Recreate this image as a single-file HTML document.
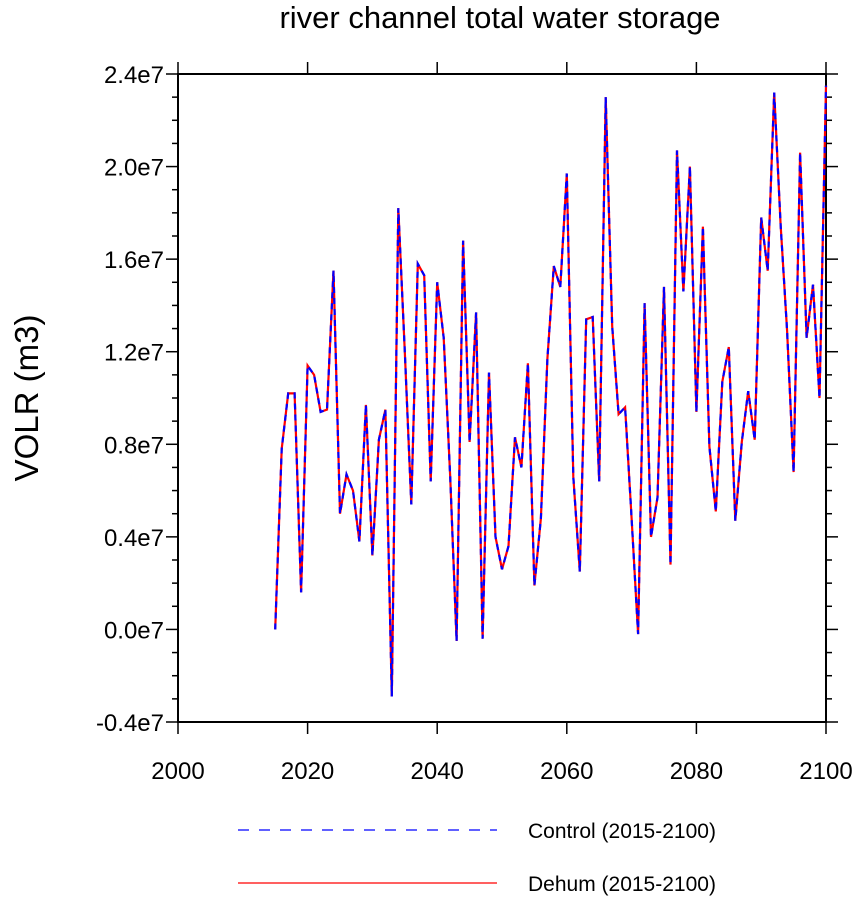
<!DOCTYPE html>
<html><head><meta charset="utf-8"><style>
body{margin:0;background:#fff;}
svg{display:block;font-family:"Liberation Sans",Helvetica,Arial,sans-serif;}
</style></head><body>
<svg id="chart" width="858" height="897" viewBox="0 0 858 897">
<text x="500" y="28" text-anchor="middle" font-size="31">river channel total water storage</text>
<text transform="translate(38,398) rotate(-90)" text-anchor="middle" font-size="33">VOLR  (m3)</text>
<g id="axes"></g>
<g id="series"></g>
<g id="legend">
<line x1="238" y1="830" x2="497" y2="830" stroke="#0000ff" stroke-width="1.3" stroke-dasharray="11,10"/>
<text x="528" y="838" font-size="21">Control (2015-2100)</text>
<line x1="238" y1="883" x2="497" y2="883" stroke="#ff0000" stroke-width="1.3"/>
<text x="528" y="891" font-size="21">Dehum (2015-2100)</text>
</g>
</svg>
<script>
const years=[];for(let y=2015;y<=2100;y++)years.push(y);
const controlValues=[0.0,0.78,1.02,1.02,0.16,1.14,1.10,0.94,0.95,1.55,0.50,0.67,0.60,0.38,0.97,0.32,0.82,0.95,-0.29,1.82,1.20,0.54,1.58,1.53,0.64,1.50,1.26,0.66,-0.05,1.68,0.81,1.37,-0.04,1.11,0.40,0.26,0.36,0.83,0.70,1.15,0.19,0.48,1.17,1.57,1.48,1.97,0.66,0.25,1.34,1.35,0.64,2.30,1.31,0.93,0.96,0.48,-0.02,1.41,0.40,0.57,1.48,0.28,2.07,1.46,2.00,0.94,1.74,0.79,0.51,1.07,1.22,0.47,0.81,1.03,0.82,1.78,1.55,2.32,1.75,1.29,0.68,2.06,1.26,1.49,1.00,2.35];
const dehumValues=controlValues.slice();
const yTicks=[-0.4,0.0,0.4,0.8,1.2,1.6,2.0,2.4];
const yTickLabels=["-0.4e7","0.0e7","0.4e7","0.8e7","1.2e7","1.6e7","2.0e7","2.4e7"];
const xTicks=[2000,2020,2040,2060,2080,2100];
const L=178,R=826,T=74,B=722;
function xs(v){return L+(v-2000)/100*(R-L);}
function ys(v){return B-(v+0.4)/2.8*(B-T);}
const NS="http://www.w3.org/2000/svg";
function mk(tag,attrs,parent){const e=document.createElementNS(NS,tag);for(const k in attrs)e.setAttribute(k,attrs[k]);parent.appendChild(e);return e;}
const axes=document.getElementById('axes');
const frame=mk('rect',{x:L,y:T,width:R-L,height:B-T,fill:'none',stroke:'#000','stroke-width':2},axes);


for(let v=-0.4;v<=2.401;v+=0.1){
  const major=Math.abs(Math.round(v*10)%4)===0;
  const len=major?12:6,y=ys(v);
  const t1=mk('line',{x1:L,y1:y,x2:L-len,y2:y,stroke:'#000','stroke-width':1.5},axes);
  
  
  const t2=mk('line',{x1:R,y1:y,x2:R+len,y2:y,stroke:'#000','stroke-width':1.5},axes);
  
  
}
yTicks.forEach((v,i)=>{
  const t=mk('text',{x:L-14,y:ys(v)+9,'text-anchor':'end','font-size':24},axes);
  t.textContent=yTickLabels[i];
  
  
});
xTicks.forEach(v=>{
  const x=xs(v);
  const t1=mk('line',{x1:x,y1:B,x2:x,y2:B+12,stroke:'#000','stroke-width':1.5},axes);
  
  
  const t2=mk('line',{x1:x,y1:T,x2:x,y2:T-12,stroke:'#000','stroke-width':1.5},axes);
  
  
  const t=mk('text',{x:x,y:B+57,'text-anchor':'middle','font-size':24},axes);
  t.textContent=String(v);
  
  
});
const series=document.getElementById('series');
const pd=vals=>vals.map((v,i)=>(i?'L':'M')+xs(years[i]).toFixed(1)+','+ys(v).toFixed(1)).join('');
const red=mk('path',{d:pd(dehumValues),fill:'none',stroke:'#ff0000','stroke-width':2.2,'stroke-linejoin':'miter'},series);


const blue=mk('path',{d:pd(controlValues),fill:'none',stroke:'#0000ff','stroke-width':2.2,'stroke-dasharray':'6,5'},series);


</script>
</body></html>
